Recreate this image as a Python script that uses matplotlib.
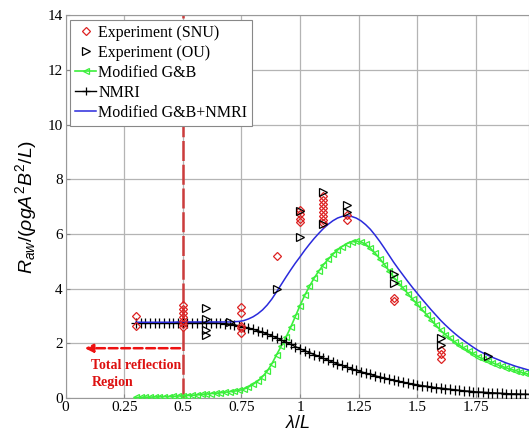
import matplotlib
matplotlib.use("Agg")
import matplotlib.pyplot as plt
import numpy as np

# ---------------- data ----------------
lam = [0.30, 0.32, 0.34, 0.36, 0.38, 0.40, 0.42, 0.44, 0.46, 0.48,
       0.50, 0.52, 0.54, 0.56, 0.58, 0.60, 0.62, 0.64, 0.66, 0.68,
       0.70, 0.72, 0.74, 0.76, 0.78, 0.80, 0.82, 0.84, 0.86, 0.88,
       0.90, 0.92, 0.94, 0.96, 0.98, 1.00, 1.02, 1.04, 1.06, 1.08,
       1.10, 1.12, 1.14, 1.16, 1.18, 1.20, 1.22, 1.24, 1.26, 1.28,
       1.30, 1.32, 1.34, 1.36, 1.38, 1.40, 1.42, 1.44, 1.46, 1.48,
       1.50, 1.52, 1.54, 1.56, 1.58, 1.60, 1.62, 1.64, 1.66, 1.68,
       1.70, 1.72, 1.74, 1.76, 1.78, 1.80, 1.82, 1.84, 1.86, 1.88,
       1.90, 1.92, 1.94, 1.96, 1.98]

nmri = [2.75, 2.75, 2.75, 2.75, 2.75, 2.75, 2.75, 2.75, 2.75, 2.75,
        2.75, 2.75, 2.75, 2.75, 2.75, 2.75, 2.75, 2.74, 2.73, 2.72,
        2.70, 2.67, 2.64, 2.60, 2.56, 2.51, 2.46, 2.40, 2.34, 2.27,
        2.20, 2.12, 2.04, 1.96, 1.88, 1.80, 1.73, 1.66, 1.59, 1.52,
        1.45, 1.38, 1.31, 1.25, 1.19, 1.13, 1.07, 1.01, 0.96, 0.91,
        0.86, 0.81, 0.77, 0.73, 0.69, 0.65, 0.61, 0.58, 0.54, 0.51,
        0.48, 0.45, 0.43, 0.40, 0.38, 0.36, 0.34, 0.32, 0.30, 0.28,
        0.26, 0.25, 0.23, 0.22, 0.21, 0.20, 0.19, 0.18, 0.17, 0.16,
        0.15, 0.15, 0.14, 0.14, 0.13]

mod_gb = [0.02, 0.02, 0.03, 0.03, 0.04, 0.04, 0.05, 0.05, 0.06, 0.07,
          0.08, 0.09, 0.10, 0.11, 0.13, 0.14, 0.16, 0.17, 0.19, 0.21,
          0.23, 0.25, 0.28, 0.32, 0.40, 0.50, 0.62, 0.78, 0.98, 1.25,
          1.58, 1.90, 2.22, 2.58, 2.98, 3.38, 3.75, 4.08, 4.38, 4.64,
          4.87, 5.07, 5.25, 5.41, 5.54, 5.64, 5.71, 5.74, 5.71, 5.62,
          5.48, 5.30, 5.10, 4.88, 4.65, 4.42, 4.22, 4.02, 3.82, 3.62,
          3.43, 3.24, 3.05, 2.86, 2.66, 2.47, 2.32, 2.18, 2.05, 1.93,
          1.82, 1.71, 1.61, 1.51, 1.43, 1.36, 1.29, 1.22, 1.16, 1.10,
          1.05, 1.00, 0.95, 0.90, 0.86]

mod_gb_nmri = [2.77, 2.77, 2.77, 2.77, 2.77, 2.77, 2.77, 2.77, 2.77, 2.78,
               2.78, 2.78, 2.78, 2.78, 2.78, 2.78, 2.78, 2.78, 2.78, 2.78,
               2.78, 2.79, 2.80, 2.83, 2.89, 2.97, 3.08, 3.22, 3.40, 3.62,
               3.88, 4.15, 4.42, 4.68, 4.93, 5.16, 5.40, 5.62, 5.83, 6.02,
               6.20, 6.35, 6.48, 6.58, 6.64, 6.66, 6.64, 6.58, 6.48, 6.34,
               6.17, 5.96, 5.73, 5.48, 5.22, 4.96, 4.72, 4.49, 4.26, 4.04,
               3.83, 3.62, 3.42, 3.22, 3.03, 2.84, 2.67, 2.51, 2.36, 2.22,
               2.09, 1.97, 1.85, 1.74, 1.65, 1.57, 1.49, 1.42, 1.35, 1.28,
               1.22, 1.16, 1.11, 1.06, 1.01]

snu_x = [0.3, 0.3,
         0.5, 0.5, 0.5, 0.5, 0.5, 0.5, 0.5,
         0.75, 0.75, 0.75, 0.75, 0.75,
         0.9,
         1.0, 1.0, 1.0, 1.0,
         1.1, 1.1, 1.1, 1.1, 1.1, 1.1, 1.1, 1.1,
         1.2, 1.2,
         1.4, 1.4,
         1.6, 1.6, 1.6]
snu_y = [3.0, 2.65,
         3.4, 3.25, 3.1, 2.95, 2.8, 2.7, 2.6,
         3.33, 3.1, 2.65, 2.55, 2.38,
         5.2,
         6.86, 6.74, 6.55, 6.43,
         7.4, 7.25, 7.1, 6.95, 6.8, 6.65, 6.5, 6.4,
         6.68, 6.5,
         3.55, 3.65,
         1.75, 1.6, 1.42]

ou_x = [0.6, 0.6, 0.6, 0.6, 0.7, 0.9, 1.0, 1.0, 1.1, 1.1, 1.2, 1.2,
        1.4, 1.4, 1.6, 1.6, 1.8]
ou_y = [3.3, 2.9, 2.5, 2.3, 2.78, 4.0, 6.84, 5.9, 7.55, 6.35, 7.04, 6.8,
        4.55, 4.2, 2.2, 1.95, 1.55]

xticks = [0, 0.25, 0.5, 0.75, 1.0, 1.25, 1.5, 1.75]
xticklabels = ["0", "0.25", "0.5", "0.75", "1", "1.25", "1.5", "1.75"]
yticks = [0, 2, 4, 6, 8, 10, 12, 14]

# ---------------- figure ----------------
plt.rcParams["font.family"] = ["Liberation Serif", "DejaVu Serif"]
plt.rcParams["mathtext.fontset"] = "custom"
plt.rcParams["mathtext.rm"] = "Liberation Sans"
plt.rcParams["mathtext.it"] = "Liberation Sans:italic"
plt.rcParams["mathtext.bf"] = "Liberation Sans:bold"

fig = plt.figure(figsize=(5.29, 4.34), dpi=100)
ax = fig.add_axes([0.124, 0.083, 0.876, 0.882])

ax.set_xlim(0, 1.977)
ax.set_ylim(0, 14)
ax.set_xticks(xticks)
ax.set_xticklabels(xticklabels)
ax.set_yticks(yticks)
ax.tick_params(labelsize=11, direction="in", length=3, color="#888888",
               pad=2)
ax.grid(True, color="#b4b4b4", linewidth=0.9)
ax.set_axisbelow(True)
for s in ax.spines.values():
    s.set_color("#999999")
    s.set_linewidth(0.8)

green = "#3bef3b"
ax.plot(lam, mod_gb, color=green, marker="<", markersize=5, fillstyle="none",
        markeredgewidth=0.9, linewidth=1.2, label="Modified G&B", zorder=3)
ax.plot(lam, nmri, color="black", marker="+", markersize=7, markeredgewidth=0.9,
        linewidth=1.0, label="NMRI", zorder=3)
ax.plot(lam, mod_gb_nmri, color="#2a2adc", linewidth=1.1,
        label="Modified G&B+NMRI", zorder=4)
ax.plot(snu_x, snu_y, linestyle="none", marker="D", markersize=4.5,
        fillstyle="none", markeredgecolor="#dd2222", markeredgewidth=0.9,
        label="Experiment (SNU)", zorder=5)
ax.plot(ou_x, ou_y, linestyle="none", marker=">", markersize=6,
        fillstyle="none", markeredgecolor="black", markeredgewidth=0.9,
        label="Experiment (OU)", zorder=5)

# total reflection region annotations
ax.plot([0.5, 0.5], [0, 14], color="#cc3c3c", linewidth=1.8,
        dashes=(8, 1.5), zorder=2)
ax.annotate("", xy=(0.07, 1.82), xytext=(0.5, 1.82),
            arrowprops=dict(arrowstyle="-|>", color="#ee1111", lw=1.8,
                            linestyle=(0, (3.5, 1.5)), mutation_scale=12),
            zorder=6)
ax.text(0.11, 1.17, "Total reflection", color="#dd1111", fontsize=10,
        fontweight="bold", va="center", ha="left")
ax.text(0.11, 0.58, "Region", color="#dd1111", fontsize=10,
        fontweight="bold", va="center", ha="left")

handles, labels = ax.get_legend_handles_labels()
order = [3, 4, 0, 1, 2]
leg = ax.legend([handles[i] for i in order], [labels[i] for i in order],
                loc="upper left", fontsize=11.5, frameon=True, fancybox=False,
                framealpha=1, edgecolor="#888888", handlelength=1.3,
                handletextpad=0.15, borderaxespad=0.3, labelspacing=0.25,
                borderpad=0.3, markerscale=0.85)
leg.get_frame().set_linewidth(0.8)
leg.set_zorder(10)

ax.set_xlabel(r"$\lambda/L$", fontsize=13, labelpad=1)
ax.set_ylabel(r"$R_{aw}/(\rho gA^2B^2/L)$", fontsize=14, labelpad=6)

fig.savefig("out.png", dpi=100)
